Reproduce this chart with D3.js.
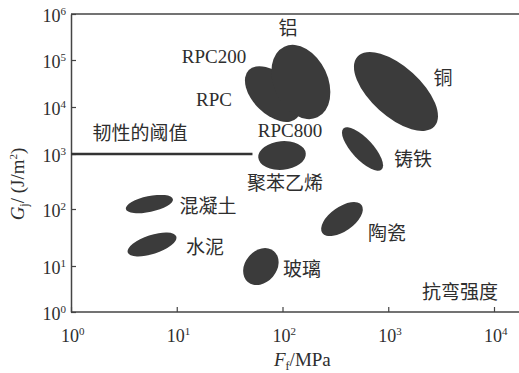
<!DOCTYPE html>
<html>
<head>
<meta charset="utf-8">
<script src="https://cdn.jsdelivr.net/npm/d3@7"></script>
<style>
  body { margin: 0; background: #fff; }
  svg text { font-family: "Liberation Serif", "Noto Sans CJK SC", serif; fill: #2e2e2e; }
  .cjk { font-family: "Noto Sans CJK SC", sans-serif; }
</style>
</head>
<body>
<div id="chart-area"></div>
<script>
// materials, each blob given by the two ends of its long axis (F in MPa, G in J/m2)
var materials = ["混凝土", "水泥", "玻璃", "陶瓷", "聚苯乙烯", "铸铁", "铜", "RPC", "铝"];
var fStart = [3.3, 3.44, 47, 238, 59, 377, 511, 48, 104];
var fEnd   = [9.2, 9.9, 83, 561, 166, 865, 2740, 137, 214];
var gStart = [100, 17.3, 4.5, 38, 860, 3490, 118000, 61000, 195000];
var gEnd   = [151, 32.8, 18.2, 117, 1030, 523, 3880, 5830, 6030];
var widthRatio = [0.33, 0.37, 0.78, 0.5, 0.6, 0.375, 0.48, 0.59, 0.69];

var xTicks = [1, 10, 100, 1000, 10000];
var yTicks = [1, 10, 100, 1000, 10000, 100000, 1000000];
var threshold = 1000;      // toughness threshold, J/m2
var thresholdEndF = 52;

var width = 519, height = 373;

var svg = d3.select("#chart-area")
    .append("svg")
    .attr("width", width)
    .attr("height", height);

var x = d3.scaleLog()
    .domain([1, 10000])
    .range([71, 494]);

// scanned figure: decades are not evenly spaced on y
var y = d3.scaleLog()
    .domain(yTicks)
    .range([312, 266, 209, 154, 107, 60, 14]);

// frame: top line and axes
svg.append("line")
    .attr("x1", 71).attr("x2", width)
    .attr("y1", y(1e6)).attr("y2", y(1e6))
    .attr("stroke", "#444").attr("stroke-width", 1.5);

var xAxis = svg.append("g")
    .attr("transform", "translate(0," + y(1) + ")")
    .call(d3.axisBottom(x).tickValues(xTicks).tickSizeInner(-5).tickSizeOuter(0).tickFormat(""));
xAxis.select(".domain").attr("d", "M71,0H" + width);

var yAxis = svg.append("g")
    .attr("transform", "translate(" + x(1) + ",0)")
    .call(d3.axisLeft(y).tickValues(yTicks).tickSizeInner(-5).tickSizeOuter(0).tickFormat(""));

svg.selectAll(".domain").attr("stroke", "#444").attr("stroke-width", 1.5);
svg.selectAll(".tick line").attr("stroke", "#444").attr("stroke-width", 1.2);

// tick labels 10^n
yTicks.forEach(function (v) {
    var t = svg.append("text")
        .attr("x", 66)
        .attr("y", y(v) + 8)
        .attr("text-anchor", "end")
        .attr("font-size", "18px");
    t.append("tspan").text("10");
    t.append("tspan").attr("font-size", "11px").attr("dy", -7).text(Math.round(Math.log10(v)));
});

xTicks.forEach(function (v) {
    var t = svg.append("text")
        .attr("x", x(v) - 10)
        .attr("y", 342)
        .attr("font-size", "18px");
    t.append("tspan").text("10");
    t.append("tspan").attr("font-size", "11px").attr("dy", -7).text(Math.round(Math.log10(v)));
});

// axis titles
var xTitle = svg.append("text")
    .attr("x", 274).attr("y", 366)
    .attr("font-size", "19px");
xTitle.append("tspan").attr("font-style", "italic").text("F");
xTitle.append("tspan").attr("font-size", "12px").attr("dy", 4).text("f");
xTitle.append("tspan").attr("dy", -4).text("/MPa");

var yTitle = svg.append("text")
    .attr("transform", "translate(24,184) rotate(-90)")
    .attr("text-anchor", "middle")
    .attr("font-size", "19px");
yTitle.append("tspan").attr("font-style", "italic").text("G");
yTitle.append("tspan").attr("font-size", "12px").attr("dy", 4).text("j");
yTitle.append("tspan").attr("dy", -4).text("/ (J/m");
yTitle.append("tspan").attr("font-size", "11px").attr("dy", -7).text("2");
yTitle.append("tspan").attr("dy", 7).text(")");

// toughness threshold
svg.append("line")
    .attr("x1", x(1)).attr("x2", x(thresholdEndF))
    .attr("y1", y(threshold)).attr("y2", y(threshold))
    .attr("stroke", "#333").attr("stroke-width", 2.5);

// material blobs
var blobs = materials.map(function (m, i) {
    var x1 = x(fStart[i]), y1 = y(gStart[i]);
    var x2 = x(fEnd[i]), y2 = y(gEnd[i]);
    var a = Math.hypot(x2 - x1, y2 - y1) / 2;
    return {
        name: m,
        cx: (x1 + x2) / 2,
        cy: (y1 + y2) / 2,
        rx: a,
        ry: a * widthRatio[i],
        angle: Math.atan2(y2 - y1, x2 - x1) * 180 / Math.PI
    };
});

svg.selectAll("ellipse")
    .data(blobs)
    .enter().append("ellipse")
    .attr("transform", function (d) {
        return "translate(" + d.cx + "," + d.cy + ") rotate(" + d.angle + ")";
    })
    .attr("rx", function (d) { return d.rx; })
    .attr("ry", function (d) { return d.ry; })
    .attr("fill", "#3b3b3b");

// labels
var labels = [
    { text: "铝", x: 288, y: 35, cjk: true },
    { text: "RPC200", x: 214, y: 63, cjk: false },
    { text: "RPC", x: 214, y: 106, cjk: false },
    { text: "RPC800", x: 290, y: 137, cjk: false },
    { text: "铜", x: 443, y: 85, cjk: true },
    { text: "铸铁", x: 413, y: 166, cjk: true },
    { text: "聚苯乙烯", x: 285, y: 190, cjk: true },
    { text: "混凝土", x: 208, y: 213, cjk: true },
    { text: "水泥", x: 205, y: 254, cjk: true },
    { text: "玻璃", x: 302, y: 276, cjk: true },
    { text: "陶瓷", x: 387, y: 240, cjk: true },
    { text: "抗弯强度", x: 460, y: 299, cjk: true },
    { text: "韧性的阈值", x: 140, y: 140, cjk: true }
];

svg.selectAll(".label")
    .data(labels)
    .enter().append("text")
    .attr("class", function (d) { return d.cjk ? "label cjk" : "label"; })
    .attr("x", function (d) { return d.x; })
    .attr("y", function (d) { return d.y; })
    .attr("text-anchor", "middle")
    .attr("font-size", function (d) { return d.cjk ? "19px" : "19px"; })
    .text(function (d) { return d.text; });
</script>
</body>
</html>
